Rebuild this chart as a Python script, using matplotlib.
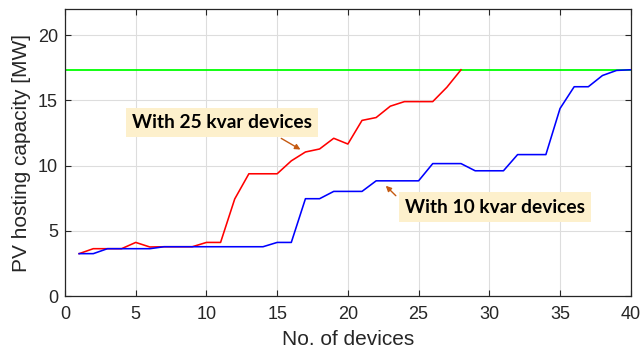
import matplotlib
matplotlib.use("Agg")
import matplotlib.pyplot as plt
import numpy as np

devices = list(range(1, 41))
cap_25kvar = [3.25, 3.63, 3.63, 3.63, 4.11, 3.76, 3.78, 3.78, 3.78, 4.11,
              4.11, 7.44, 9.37, 9.37, 9.37, 10.36, 11.04, 11.27, 12.09, 11.65,
              13.46, 13.68, 14.55, 14.9, 14.9, 14.9, 16.0, 17.34]
cap_10kvar = [3.25, 3.25, 3.63, 3.63, 3.63, 3.63, 3.78, 3.78, 3.78, 3.78,
              3.78, 3.78, 3.78, 3.78, 4.11, 4.11, 7.46, 7.46, 8.02, 8.02,
              8.02, 8.83, 8.83, 8.83, 8.83, 10.15, 10.15, 10.15, 9.6, 9.6,
              9.6, 10.84, 10.84, 10.84, 14.37, 16.04, 16.04, 16.9, 17.29, 17.34]
max_capacity = 17.34
xticks = [0, 5, 10, 15, 20, 25, 30, 35, 40]
yticks = [0, 5, 10, 15, 20]

plt.rcParams['font.family'] = ['Liberation Sans', 'DejaVu Sans']

fig = plt.figure(figsize=(6.41, 3.58), dpi=100)
ax = fig.add_axes([0.1014, 0.173, 0.8826, 0.802])

ax.axhline(max_capacity, color='#00ff00', lw=1.3, zorder=2)
ax.plot(devices[:len(cap_25kvar)], cap_25kvar, color='#ff0000', lw=1.15, zorder=3)
ax.plot(devices, cap_10kvar, color='#0000ff', lw=1.15, zorder=3)

ax.set_xlim(0, 40)
ax.set_ylim(0, 22)
ax.set_xticks(xticks)
ax.set_yticks(yticks)
ax.grid(True, color='#dddddd', lw=0.8)
ax.set_axisbelow(True)
ax.tick_params(direction='in', top=True, right=True, length=4, width=0.8,
               labelsize=13, labelcolor='#262626', color='#262626')
ax.tick_params(axis='x', pad=7)
ax.tick_params(axis='y', pad=5)
for s in ax.spines.values():
    s.set_color('#262626')
    s.set_linewidth(0.9)

ax.set_xlabel('No. of devices', fontsize=15, color='#262626', labelpad=5)
ax.set_ylabel('PV hosting capacity [MW]', fontsize=15, color='#262626', labelpad=5)

box = dict(boxstyle='square,pad=0.32', fc='#fdf0cc', ec='none')
arrow = dict(arrowstyle='-|>', color='#c55a11', lw=1.0, mutation_scale=8)
ax.text(11.1, 13.29, 'With 25 kvar devices', family=['Lato', 'DejaVu Sans'],
        fontweight='bold', fontsize=13.8, color='black', ha='center', va='center',
        bbox=box, zorder=5)
ax.annotate('', xy=(16.82, 11.12), xytext=(15.12, 12.19), arrowprops=arrow, zorder=5)
ax.text(30.39, 6.82, 'With 10 kvar devices', family=['Lato', 'DejaVu Sans'],
        fontweight='bold', fontsize=13.8, color='black', ha='center', va='center',
        bbox=box, zorder=5)
ax.annotate('', xy=(22.54, 8.6), xytext=(23.53, 7.54), arrowprops=arrow, zorder=5)

fig.savefig('out.png', dpi=100)
